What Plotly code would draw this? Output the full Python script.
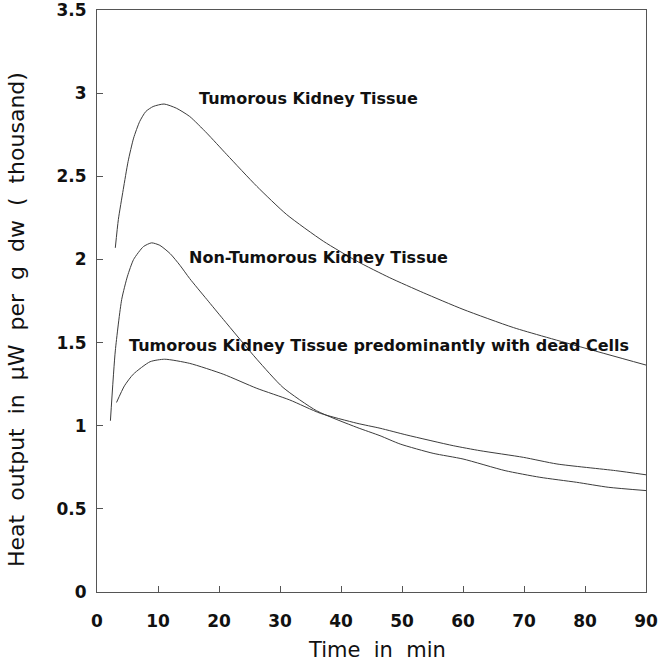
import plotly.graph_objects as go

# ---- data ----
t_tumorous = [3.0, 3.5, 4.3, 5.1, 6.0, 7.0, 8.0, 9.2, 11.0, 13.0, 15.2, 18.0, 21.3, 26.2, 31.1, 37.1, 42.6, 48.0, 53.5, 60.0, 68.3, 79.2, 90.0]
v_tumorous = [2.07, 2.24, 2.42, 2.59, 2.73, 2.83, 2.89, 2.92, 2.935, 2.91, 2.86, 2.76, 2.63, 2.44, 2.27, 2.11, 1.99, 1.89, 1.80, 1.70, 1.59, 1.475, 1.365]

t_nontum = [2.2, 3.0, 4.05, 5.0, 6.0, 7.6, 8.95, 10.3, 12.0, 13.6, 15.2, 18.0, 20.7, 26.2, 30.5, 36.0, 42.6, 46.4, 49.7, 55.1, 60.0, 66.9, 72.6, 78.6, 83.8, 90.0]
v_nontum = [1.03, 1.45, 1.76, 1.90, 2.00, 2.077, 2.10, 2.085, 2.035, 1.965, 1.885, 1.76, 1.64, 1.40, 1.23, 1.09, 0.99, 0.94, 0.89, 0.834, 0.80, 0.73, 0.69, 0.66, 0.63, 0.61]

t_dead = [3.2, 4.5, 5.95, 8.7, 11.1, 15.2, 20.7, 26.2, 31.6, 36.6, 42.6, 46.4, 50.8, 58.4, 62.8, 69.9, 75.4, 85.0, 90.0]
v_dead = [1.14, 1.24, 1.31, 1.385, 1.40, 1.375, 1.31, 1.225, 1.155, 1.075, 1.015, 0.985, 0.944, 0.88, 0.85, 0.81, 0.77, 0.73, 0.705]

x_ticks = [0, 10, 20, 30, 40, 50, 60, 70, 80, 90]
y_ticks = [0, 0.5, 1, 1.5, 2, 2.5, 3, 3.5]
y_ticktext = ["0", "0.5", "1", "1.5", "2", "2.5", "3", "3.5"]

labels = ["Tumorous Kidney Tissue", "Non-Tumorous Kidney Tissue",
          "Tumorous Kidney Tissue predominantly with dead Cells"]
label_t = [16.4, 14.75, 4.9]
label_v = [2.97, 2.01, 1.485]

x_title = "Time in min"
y_title = "Heat output in µW per g dw ( thousand)"

# ---- figure ----
FONT = "DejaVu Sans, Verdana, sans-serif"
line_color = "#3c3c3c"
fig = go.Figure()
for tx, vy, name in [(t_tumorous, v_tumorous, labels[0]),
                     (t_nontum, v_nontum, labels[1]),
                     (t_dead, v_dead, labels[2])]:
    fig.add_trace(go.Scatter(x=tx, y=vy, mode="lines", name=name,
                             line=dict(color=line_color, width=1, shape="spline", smoothing=0.6),
                             showlegend=False))

for txt, tx, vy in zip(labels, label_t, label_v):
    fig.add_annotation(x=tx, y=vy, text="<b>" + txt + "</b>", showarrow=False,
                       xanchor="left", yanchor="middle",
                       font=dict(family=FONT, size=16, color="#111"))

def widen(s):
    return s.replace(" ", "\u00a0 ")

# axis titles (placed as paper annotations for exact positioning)
fig.add_annotation(xref="paper", yref="paper", x=(377 - 97) / 549, y=(592 - 650) / 582,
                   text=widen(x_title), showarrow=False, xanchor="center", yanchor="middle",
                   font=dict(family=FONT, size=21, color="#111"))
fig.add_annotation(xref="paper", yref="paper", x=(16 - 97) / 549, y=(592 - 320) / 582,
                   text=widen(y_title), showarrow=False, xanchor="center", yanchor="middle",
                   textangle=-90, font=dict(family=FONT, size=22, color="#111"))

axis_common = dict(showline=True, linecolor="#555", linewidth=1, mirror=True,
                   ticks="inside", ticklen=6, tickcolor="#555", showgrid=False, zeroline=False,
                   automargin=False, ticklabeloverflow="allow")

fig.update_layout(
    width=662, height=668,
    margin=dict(l=97, r=16, t=10, b=76),
    paper_bgcolor="white", plot_bgcolor="white",
    xaxis=dict(range=[0, 90], tickvals=x_ticks, ticktext=[str(v) for v in x_ticks],
               tickfont=dict(family=FONT, size=17, color="#111", weight="bold"),
               ticklabelstandoff=14, **axis_common),
    yaxis=dict(range=[0, 3.5005], tickvals=y_ticks, ticktext=y_ticktext,
               tickfont=dict(family=FONT, size=17, color="#111", weight="bold"),
               ticklabelstandoff=6, **axis_common),
)

fig.write_html("out.html")
